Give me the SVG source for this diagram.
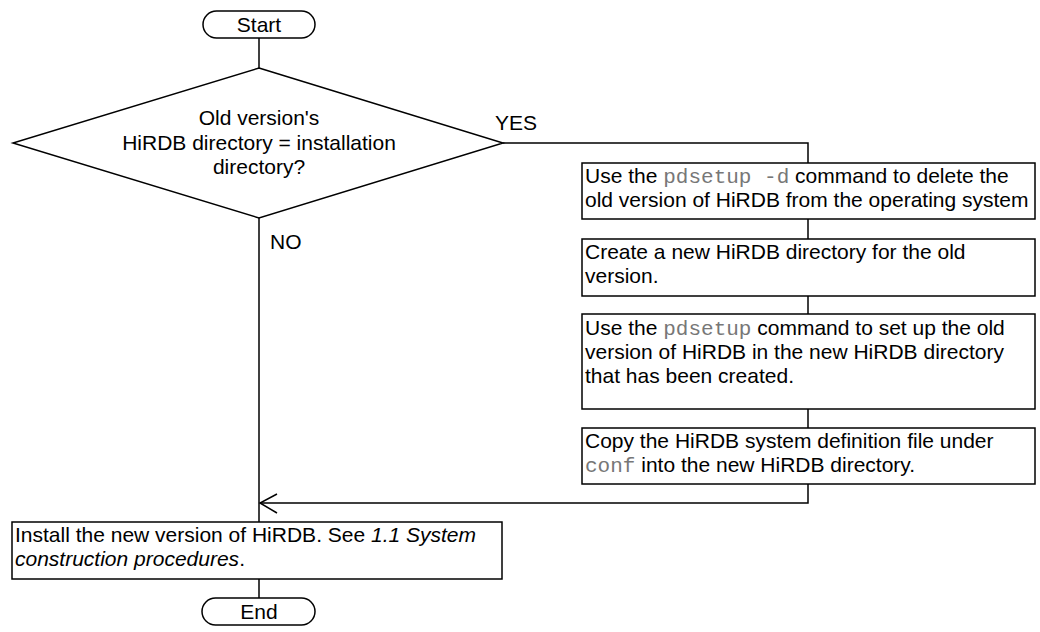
<svg xmlns="http://www.w3.org/2000/svg" width="1040" height="632" viewBox="0 0 1040 632">
<style>
.s{fill:#fff;stroke:#000;stroke-width:1.5}
.t{font-family:"Liberation Sans",Arial,sans-serif;font-size:21px;fill:#000}
.m{font-family:"Liberation Mono","Courier New",monospace;font-size:21px;fill:#777}
.c{fill:none;stroke:#000;stroke-width:1.5}
</style>
<g id="connectors">
<path class="c" d="M259 38V68"/>
<path class="c" d="M503 143H808V163"/>
<path class="c" d="M808 219V239"/>
<path class="c" d="M808 296V314"/>
<path class="c" d="M808 409V428"/>
<path class="c" d="M808 484V503H260"/>
<path class="c" d="M277 494L260 503L277 513"/>
<path class="c" d="M259 218V522"/>
<path class="c" d="M259 579V598"/>
</g>
<g id="start">
<rect class="s" x="203" y="11" width="112" height="27" rx="13.5"/>
<text class="t" x="259" y="32" text-anchor="middle">Start</text>
</g>
<g id="decision">
<polygon class="s" points="259,68 503,143 259,218 13,143"/>
<text class="t" text-anchor="middle"><tspan x="259" y="125">Old version's</tspan><tspan x="259" y="150">HiRDB directory = installation</tspan><tspan x="259" y="174">directory?</tspan></text>
</g>
<text class="t" x="495" y="130">YES</text>
<text class="t" x="270" y="249">NO</text>
<g id="box1">
<rect class="s" x="582" y="163" width="453" height="56"/>
<text class="t" x="585" y="183">Use the <tspan class="m">pdsetup -d</tspan> command to delete the</text>
<text class="t" x="585" y="207">old version of HiRDB from the operating system</text>
</g>
<g id="box2">
<rect class="s" x="582" y="239" width="453" height="57"/>
<text class="t" x="585" y="259">Create a new HiRDB directory for the old</text>
<text class="t" x="585" y="283">version.</text>
</g>
<g id="box3">
<rect class="s" x="582" y="314" width="453" height="95"/>
<text class="t" x="585" y="335">Use the <tspan class="m">pdsetup</tspan> command to set up the old</text>
<text class="t" x="585" y="359">version of HiRDB in the new HiRDB directory</text>
<text class="t" x="585" y="383">that has been created.</text>
</g>
<g id="box4">
<rect class="s" x="582" y="428" width="453" height="56"/>
<text class="t" x="585" y="448">Copy the HiRDB system definition file under</text>
<text class="t" x="585" y="472"><tspan class="m">conf</tspan> into the new HiRDB directory.</text>
</g>
<g id="box5">
<rect class="s" x="12" y="522" width="490" height="57"/>
<text class="t" x="15" y="542">Install the new version of HiRDB. See <tspan font-style="italic">1.1 System</tspan></text>
<text class="t" x="15" y="566"><tspan font-style="italic">construction procedures</tspan>.</text>
</g>
<g id="end">
<rect class="s" x="202" y="598" width="113" height="27" rx="13.5"/>
<text class="t" x="259" y="619" text-anchor="middle">End</text>
</g>
</svg>
